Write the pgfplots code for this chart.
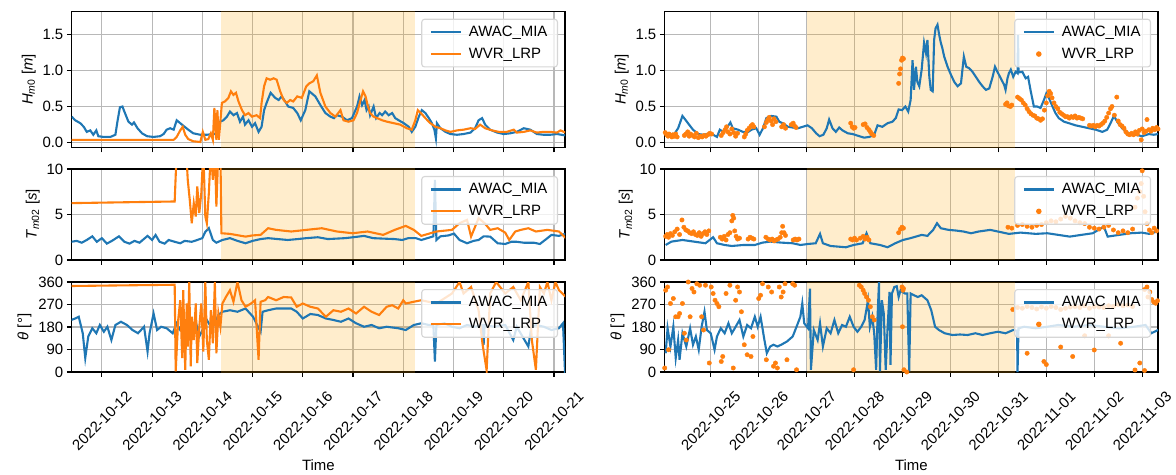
\documentclass[border=0pt]{standalone}
\usepackage{fontspec}
\setmainfont{Liberation Sans}
\usepackage{pgfplots}
\pgfplotsset{compat=1.18}
\definecolor{cA}{HTML}{1F77B4}
\definecolor{cB}{HTML}{FF7F0E}
\definecolor{shade}{HTML}{FFA500}
\definecolor{gridc}{HTML}{B8B8B8}
\definecolor{legc}{HTML}{D6D6D6}
\newcommand{\fs}{\fontsize{15}{17}\selectfont}
\pgfplotsset{
  baseax/.style={scale only axis, width=493.3bp,
    axis line style={line width=1.1bp,black},
    tick pos=left, tick align=outside, major tick length=4.9bp,
    every tick/.style={black,line width=1.1bp},
    grid=major, major grid style={draw=gridc,line width=1.1bp},
    tick label style={font=\fs}, label style={font=\fs},
    legend cell align=left,
    legend style={at={(1,1)}, anchor=north east, xshift=-7bp, yshift=-7bp,
      fill=white, fill opacity=0.8, text opacity=1, draw=legc, line width=1.1bp,
      rounded corners=2.8bp, font=\fs, inner xsep=8bp, inner ysep=5bp, row sep=6bp,
      /tikz/every odd column/.append style={column sep=5bp}},
  },
  Lax/.style={baseax, xmin=11.40, xmax=21.22, xtick={12,13,...,21}},
  Rax/.style={baseax, xmin=24.04, xmax=34.33, xtick={25,26,...,34}},
  Htop/.style={height=135.8bp, ymin=-0.066, ymax=1.81, ytick={0,0.5,1,1.5},
    yticklabels={0.0,0.5,1.0,1.5}, xticklabels={},
    ylabel={\textit{H}\textsubscript{\textit{m}0} [\textit{m}]}},
  Tmid/.style={height=91bp, ymin=0, ymax=10, ytick={0,5,10}, yticklabels={0,5,10},
    xticklabels={}, ylabel={\textit{T}\textsubscript{\textit{m}02} [\textit{s}]}},
  Dbot/.style={height=90bp, ymin=0, ymax=360, ytick={0,90,180,270,360},
    yticklabels={0,90,180,270,360}, ylabel={\textit{θ} [°]}, xlabel={Time},
    xlabel style={yshift=0bp},
    xticklabel style={yshift=-44bp, rotate=45, anchor=center}},
  lineA/.style={cA, line width=2.1bp,
    legend image code/.code={\draw[cA, line width=2.1bp] (0bp,0bp) -- (30bp,0bp);}},
  lineB/.style={cB, line width=2.1bp,
    legend image code/.code={\draw[cB, line width=2.1bp] (0bp,0bp) -- (30bp,0bp);}},
  dotB/.style={cB, only marks, mark=*, mark size=2.2bp, mark options={draw=none, fill=cB},
    legend image code/.code={\fill[cB, fill opacity=1] (15bp,0bp) circle (2.2bp);}},
  shadeL/.style={fill=shade, fill opacity=0.2, draw=none, forget plot},
}
\begin{document}
\begin{tikzpicture}
\path[use as bounding box] (0,0) rectangle (1176bp,475bp);
% ---------------- LEFT TOP
\begin{axis}[Lax, Htop, at={(71.7bp,327.5bp)}, anchor=south west]
\addplot[shadeL] coordinates {(14.38,-1)(18.24,-1)(18.24,3)(14.38,3)} -- cycle;
\addplot[lineA] coordinates {(11.40,0.36)(11.47,0.31)(11.57,0.27)(11.64,0.22)(11.70,0.15)(11.77,0.17)(11.83,0.11)(11.89,0.17)(11.93,0.09)(12.03,0.08)(12.17,0.08)(12.27,0.11)(12.31,0.29)(12.36,0.49)(12.41,0.50)(12.46,0.41)(12.53,0.29)(12.60,0.25)(12.64,0.28)(12.71,0.20)(12.80,0.13)(12.90,0.09)(13.03,0.08)(13.16,0.09)(13.23,0.12)(13.29,0.18)(13.36,0.20)(13.43,0.18)(13.49,0.31)(13.56,0.27)(13.63,0.23)(13.72,0.18)(13.82,0.13)(13.96,0.11)(14.09,0.11)(14.22,0.12)(14.29,0.12)(14.35,0.29)(14.42,0.31)(14.49,0.36)(14.55,0.43)(14.62,0.38)(14.69,0.41)(14.75,0.29)(14.81,0.36)(14.85,0.25)(14.92,0.31)(14.99,0.22)(15.05,0.27)(15.12,0.15)(15.18,0.22)(15.23,0.45)(15.28,0.55)(15.36,0.69)(15.45,0.62)(15.52,0.59)(15.58,0.64)(15.65,0.57)(15.71,0.50)(15.81,0.48)(15.89,0.41)(15.96,0.31)(16.05,0.45)(16.13,0.71)(16.25,0.64)(16.35,0.52)(16.45,0.41)(16.55,0.36)(16.62,0.34)(16.68,0.38)(16.78,0.36)(16.88,0.31)(16.98,0.34)(17.08,0.50)(17.13,0.64)(17.18,0.52)(17.23,0.59)(17.27,0.45)(17.31,0.50)(17.34,0.38)(17.41,0.50)(17.46,0.34)(17.53,0.41)(17.58,0.38)(17.64,0.43)(17.71,0.38)(17.78,0.41)(17.84,0.34)(17.91,0.31)(18.01,0.27)(18.11,0.22)(18.17,0.15)(18.24,0.22)(18.31,0.36)(18.37,0.45)(18.44,0.41)(18.51,0.34)(18.57,0.27)(18.62,0.18)(18.65,0.06)(18.67,0.27)(18.74,0.20)(18.84,0.15)(18.94,0.12)(19.07,0.11)(19.20,0.12)(19.34,0.14)(19.43,0.20)(19.50,0.31)(19.57,0.34)(19.63,0.25)(19.73,0.18)(19.87,0.14)(20.00,0.12)(20.13,0.13)(20.26,0.15)(20.40,0.20)(20.53,0.18)(20.66,0.12)(20.79,0.11)(20.93,0.11)(21.06,0.12)(21.23,0.10)};
\addlegendentry{AWAC\_MIA}
\addplot[lineB] coordinates {(11.40,0.04)(13.43,0.04)(13.49,0.08)(13.56,0.17)(13.61,0.22)(13.66,0.11)(13.72,0.05)(13.82,0.02)(13.96,0.01)(14.01,0.15)(14.06,0.04)(14.12,0.05)(14.17,0.13)(14.21,0.04)(14.24,0.48)(14.28,0.04)(14.30,0.45)(14.33,0.04)(14.39,0.55)(14.45,0.57)(14.52,0.62)(14.57,0.71)(14.62,0.66)(14.67,0.69)(14.72,0.57)(14.79,0.45)(14.85,0.38)(14.92,0.41)(14.99,0.36)(15.08,0.38)(15.15,0.34)(15.18,0.55)(15.23,0.78)(15.28,0.89)(15.35,0.87)(15.42,0.89)(15.48,0.87)(15.55,0.71)(15.62,0.59)(15.68,0.55)(15.75,0.59)(15.81,0.57)(15.89,0.64)(15.98,0.62)(16.07,0.78)(16.13,0.82)(16.21,0.85)(16.28,0.93)(16.35,0.69)(16.45,0.50)(16.55,0.41)(16.65,0.36)(16.75,0.45)(16.81,0.31)(16.91,0.29)(17.01,0.31)(17.08,0.41)(17.15,0.59)(17.20,0.71)(17.25,0.64)(17.29,0.52)(17.34,0.41)(17.41,0.36)(17.48,0.34)(17.58,0.31)(17.68,0.29)(17.81,0.27)(17.94,0.25)(18.07,0.20)(18.17,0.18)(18.24,0.31)(18.29,0.45)(18.35,0.41)(18.44,0.34)(18.54,0.27)(18.64,0.22)(18.74,0.20)(18.84,0.17)(18.94,0.15)(19.07,0.17)(19.20,0.18)(19.34,0.20)(19.43,0.19)(19.53,0.25)(19.63,0.20)(19.77,0.17)(19.90,0.15)(20.06,0.15)(20.20,0.18)(20.26,0.14)(20.40,0.15)(20.53,0.17)(20.66,0.14)(20.79,0.15)(20.93,0.15)(21.06,0.14)(21.13,0.17)(21.23,0.14)};
\addlegendentry{WVR\_LRP}
\end{axis}
% ---------------- LEFT MID
\begin{axis}[Lax, Tmid, at={(71.7bp,215bp)}, anchor=south west]
\addplot[shadeL] coordinates {(14.38,-1)(18.24,-1)(18.24,20)(14.38,20)} -- cycle;
\addplot[lineA] coordinates {(11.39,2.0)(11.50,2.1)(11.60,1.9)(11.70,2.2)(11.81,2.6)(11.90,2.0)(12.00,2.4)(12.10,1.8)(12.20,2.1)(12.34,2.6)(12.45,2.0)(12.55,1.8)(12.65,2.1)(12.75,1.9)(12.91,2.65)(13.00,2.2)(13.07,2.75)(13.15,2.0)(13.25,1.8)(13.33,2.2)(13.45,2.0)(13.56,1.84)(13.65,2.1)(13.79,2.0)(13.90,2.2)(14.00,2.4)(14.06,3.1)(14.13,3.5)(14.21,2.2)(14.28,1.9)(14.40,2.2)(14.55,2.4)(14.70,2.1)(14.86,1.84)(15.00,2.1)(15.16,2.3)(15.31,2.4)(15.50,2.3)(15.70,2.2)(15.90,2.3)(16.07,2.4)(16.30,2.5)(16.50,2.3)(16.84,2.4)(17.00,2.5)(17.22,2.65)(17.40,2.4)(17.60,2.35)(17.83,2.3)(17.98,2.2)(18.10,2.4)(18.25,2.4)(18.36,2.2)(18.60,2.6)(18.63,8.8)(18.66,2.2)(18.74,2.6)(18.90,2.7)(19.01,2.9)(19.12,2.2)(19.27,1.84)(19.40,2.1)(19.50,2.2)(19.60,2.6)(19.73,2.57)(19.88,1.84)(20.03,1.76)(20.15,2.0)(20.26,2.0)(20.40,1.9)(20.60,1.9)(20.72,1.76)(20.87,2.4)(20.95,2.76)(21.10,2.65)(21.24,2.9)};
\addlegendentry{AWAC\_MIA}
\addplot[lineB] coordinates {(11.39,6.25)(13.45,6.43)(13.49,12)(13.68,12)(13.71,8.82)(13.75,6.62)(13.79,4.04)(13.83,6.25)(13.87,4.78)(13.90,8.09)(13.94,5.15)(13.98,7.35)(14.02,12)(14.06,4.78)(14.09,4.04)(14.13,7.35)(14.17,12)(14.21,8.82)(14.25,12)(14.28,5.88)(14.32,12)(14.36,12)(14.38,2.94)(14.55,2.87)(14.86,2.57)(15.00,2.7)(15.16,2.76)(15.31,3.49)(15.47,3.31)(15.77,3.13)(16.07,3.31)(16.38,3.49)(16.68,3.13)(16.99,2.94)(17.29,3.13)(17.60,2.76)(17.83,3.31)(18.05,3.75)(18.21,3.31)(18.36,2.65)(18.66,3.13)(18.97,3.31)(19.12,4.04)(19.27,4.41)(19.35,2.57)(19.50,4.6)(19.62,4.04)(19.73,3.31)(19.88,3.49)(20.03,3.01)(20.11,2.2)(20.23,3.13)(20.34,3.31)(20.49,3.49)(20.64,3.13)(20.87,3.31)(21.10,3.13)(21.24,2.39)};
\addlegendentry{WVR\_LRP}
\end{axis}
% ---------------- LEFT BOTTOM
\begin{axis}[Lax, Dbot, at={(71.7bp,103bp)}, anchor=south west,
  xticklabels={2022-10-12,2022-10-13,2022-10-14,2022-10-15,2022-10-16,2022-10-17,2022-10-18,2022-10-19,2022-10-20,2022-10-21}]
\addplot[shadeL] coordinates {(14.38,-10)(18.24,-10)(18.24,400)(14.38,400)} -- cycle;
\addplot[lineA] coordinates {(11.39,208)(11.47,214)(11.54,221)(11.62,155)(11.67,56)(11.73,142)(11.81,175)(11.89,155)(11.96,188)(12.04,161)(12.11,181)(12.19,128)(12.27,188)(12.38,201)(12.50,188)(12.61,168)(12.72,155)(12.84,181)(12.91,82)(12.95,155)(13.03,234)(13.10,168)(13.18,181)(13.29,175)(13.41,155)(13.49,195)(13.56,168)(13.64,181)(13.71,188)(13.79,155)(13.87,201)(13.94,142)(14.02,175)(14.09,208)(14.17,181)(14.25,195)(14.32,228)(14.40,241)(14.55,247)(14.70,241)(14.86,254)(15.01,221)(15.16,161)(15.20,241)(15.31,247)(15.47,254)(15.62,254)(15.77,254)(15.88,241)(16.00,214)(16.15,232)(16.30,228)(16.46,214)(16.61,208)(16.76,201)(16.91,214)(17.06,195)(17.22,181)(17.37,188)(17.52,175)(17.67,181)(17.90,175)(18.05,168)(18.21,188)(18.36,195)(18.51,188)(18.60,188)(18.63,42)(18.66,188)(18.82,195)(18.97,181)(19.12,175)(19.27,188)(19.43,181)(19.58,188)(19.60,109)(19.62,188)(19.81,181)(20.03,188)(20.19,128)(20.26,181)(20.49,102)(20.55,181)(20.64,188)(20.80,181)(20.95,168)(21.10,175)(21.18,195)(21.22,0)(21.24,10)};
\addlegendentry{AWAC\_MIA}
\addplot[lineB] coordinates {(11.39,344)(13.45,349)(13.47,3)(13.52,208)(13.56,287)(13.60,56)(13.62,327)(13.66,9)(13.69,274)(13.71,102)(13.74,360)(13.77,23)(13.79,221)(13.83,128)(13.87,274)(13.90,36)(13.94,181)(13.98,274)(14.02,82)(14.06,360)(14.09,128)(14.13,49)(14.17,247)(14.21,115)(14.25,360)(14.28,75)(14.32,234)(14.36,181)(14.40,274)(14.47,300)(14.55,327)(14.62,281)(14.70,360)(14.78,287)(14.86,261)(14.97,274)(15.05,287)(15.12,49)(15.16,281)(15.25,287)(15.31,300)(15.47,287)(15.62,300)(15.77,298)(15.88,261)(16.00,274)(16.15,261)(16.30,254)(16.46,221)(16.61,247)(16.76,241)(16.91,254)(17.06,234)(17.22,261)(17.37,241)(17.52,228)(17.67,261)(17.78,267)(17.90,254)(18.00,287)(18.05,274)(18.21,281)(18.36,287)(18.66,274)(18.97,314)(19.12,360)(19.20,314)(19.35,340)(19.50,247)(19.58,109)(19.66,7)(19.73,314)(19.85,360)(20.03,314)(20.19,340)(20.34,287)(20.49,360)(20.56,128)(20.64,9)(20.72,340)(20.80,314)(20.87,360)(20.95,287)(21.03,360)(21.10,327)(21.24,300)};
\addlegendentry{WVR\_LRP}
\end{axis}
% ---------------- RIGHT TOP
\begin{axis}[Rax, Htop, at={(664.7bp,327.5bp)}, anchor=south west]
\addplot[shadeL] coordinates {(27.0,-1)(31.35,-1)(31.35,3)(27.0,3)} -- cycle;
\addplot[lineA] coordinates {(24.25,0.13)(24.32,0.20)(24.41,0.37)(24.48,0.31)(24.56,0.24)(24.63,0.18)(24.74,0.12)(24.84,0.11)(24.94,0.12)(25.05,0.11)(25.13,0.08)(25.19,0.18)(25.26,0.15)(25.33,0.20)(25.41,0.28)(25.46,0.20)(25.57,0.18)(25.67,0.15)(25.76,0.14)(25.85,0.18)(25.95,0.20)(26.02,0.11)(26.09,0.20)(26.16,0.34)(26.26,0.37)(26.37,0.36)(26.43,0.29)(26.50,0.27)(26.61,0.22)(26.71,0.21)(26.82,0.20)(26.92,0.22)(27.02,0.24)(27.11,0.20)(27.20,0.13)(27.27,0.09)(27.35,0.11)(27.42,0.20)(27.47,0.32)(27.54,0.20)(27.61,0.15)(27.68,0.21)(27.75,0.17)(27.86,0.13)(27.96,0.12)(28.10,0.09)(28.20,0.07)(28.31,0.08)(28.41,0.11)(28.48,0.24)(28.58,0.22)(28.69,0.27)(28.79,0.29)(28.86,0.34)(28.92,0.46)(28.99,0.45)(29.06,0.50)(29.12,0.43)(29.17,0.59)(29.21,1.14)(29.24,0.73)(29.28,1.05)(29.31,0.84)(29.35,0.78)(29.40,1.01)(29.45,1.38)(29.49,1.24)(29.52,1.42)(29.56,0.91)(29.59,0.73)(29.63,0.71)(29.66,1.42)(29.69,1.58)(29.73,1.63)(29.76,1.51)(29.80,1.38)(29.83,1.31)(29.87,1.19)(29.94,1.05)(30.01,0.94)(30.08,0.84)(30.15,0.78)(30.22,0.82)(30.28,1.19)(30.33,1.05)(30.39,1.03)(30.46,0.98)(30.53,0.91)(30.60,0.84)(30.67,0.78)(30.74,0.73)(30.81,0.75)(30.88,0.91)(30.93,1.05)(30.98,0.98)(31.05,0.89)(31.12,0.80)(31.15,0.73)(31.19,0.89)(31.22,0.96)(31.26,1.01)(31.31,0.91)(31.36,0.98)(31.40,0.96)(31.41,1.49)(31.42,0.97)(31.50,0.98)(31.57,0.89)(31.62,0.91)(31.67,0.73)(31.74,0.50)(31.81,0.50)(31.88,0.48)(31.95,0.59)(32.00,0.68)(32.06,0.61)(32.13,0.50)(32.19,0.41)(32.26,0.34)(32.37,0.29)(32.47,0.27)(32.61,0.24)(32.75,0.22)(32.89,0.20)(33.03,0.18)(33.17,0.15)(33.27,0.18)(33.34,0.27)(33.41,0.37)(33.48,0.29)(33.58,0.20)(33.72,0.13)(33.86,0.11)(34.00,0.09)(34.14,0.12)(34.24,0.11)(34.33,0.12)};
\addlegendentry{AWAC\_MIA}
\addplot[dotB] coordinates {(24.05,0.14)(24.08,0.11)(24.11,0.09)(24.13,0.12)(24.16,0.10)(24.19,0.08)(24.21,0.11)(24.24,0.09)(24.27,0.12)(24.30,0.08)(24.45,0.10)(24.48,0.12)(24.52,0.15)(24.55,0.09)(24.58,0.12)(24.62,0.10)(24.66,0.08)(24.70,0.13)(24.74,0.07)(24.78,0.09)(24.82,0.08)(24.86,0.10)(24.90,0.09)(24.94,0.11)(24.98,0.13)(25.02,0.12)(25.22,0.10)(25.26,0.14)(25.30,0.18)(25.33,0.22)(25.36,0.15)(25.40,0.12)(25.44,0.19)(25.48,0.14)(25.52,0.09)(25.56,0.13)(25.70,0.08)(25.73,0.12)(25.76,0.17)(25.80,0.20)(25.84,0.23)(25.87,0.25)(25.90,0.22)(26.12,0.22)(26.16,0.28)(26.19,0.32)(26.22,0.35)(26.26,0.30)(26.29,0.25)(26.32,0.33)(26.36,0.29)(26.48,0.22)(26.52,0.25)(26.56,0.20)(26.68,0.25)(26.72,0.27)(26.75,0.23)(26.78,0.21)(27.92,0.27)(27.95,0.22)(27.98,0.20)(28.01,0.21)(28.18,0.25)(28.22,0.26)(28.26,0.21)(28.30,0.18)(28.33,0.15)(28.36,0.12)(28.40,0.10)(28.92,0.82)(28.94,0.95)(28.96,1.02)(28.98,1.14)(29.00,1.17)(29.02,1.16)(31.15,0.53)(31.18,0.55)(31.21,0.51)(31.25,0.50)(31.28,0.52)(31.40,0.63)(31.44,0.61)(31.48,0.59)(31.52,0.55)(31.56,0.52)(31.60,0.47)(31.64,0.43)(31.68,0.40)(31.72,0.38)(31.76,0.37)(31.80,0.34)(31.84,0.33)(31.88,0.31)(31.92,0.33)(31.96,0.45)(32.00,0.55)(32.03,0.65)(32.06,0.71)(32.09,0.68)(32.12,0.62)(32.16,0.55)(32.20,0.50)(32.24,0.47)(32.28,0.42)(32.32,0.40)(32.36,0.38)(32.40,0.36)(32.44,0.36)(32.48,0.34)(32.52,0.36)(32.56,0.35)(32.60,0.37)(32.64,0.34)(32.68,0.35)(32.72,0.34)(32.76,0.33)(32.90,0.24)(32.94,0.23)(32.98,0.24)(33.02,0.22)(33.06,0.24)(33.10,0.23)(33.14,0.25)(33.18,0.27)(33.22,0.30)(33.26,0.35)(33.30,0.41)(33.34,0.47)(33.37,0.50)(33.47,0.63)(33.42,0.38)(33.50,0.30)(33.54,0.25)(33.58,0.23)(33.62,0.20)(33.66,0.15)(33.70,0.12)(33.74,0.11)(33.78,0.13)(33.82,0.11)(33.86,0.15)(33.90,0.12)(33.94,0.17)(33.98,0.04)(34.00,0.19)(34.04,0.14)(34.08,0.16)(34.10,0.32)(34.14,0.18)(34.18,0.16)(34.22,0.20)(34.26,0.18)(34.30,0.21)(34.33,0.19)};
\addlegendentry{WVR\_LRP}
\end{axis}
% ---------------- RIGHT MID
\begin{axis}[Rax, Tmid, at={(664.7bp,215bp)}, anchor=south west]
\addplot[shadeL] coordinates {(27.0,-1)(31.35,-1)(31.35,20)(27.0,20)} -- cycle;
\addplot[lineA] coordinates {(24.06,1.65)(24.18,2.02)(24.41,2.2)(24.65,2.02)(24.89,1.84)(25.05,2.5)(25.13,1.84)(25.29,1.65)(25.44,1.54)(25.68,1.65)(25.92,1.65)(26.08,1.91)(26.24,2.02)(26.47,1.91)(26.71,1.84)(26.87,1.65)(27.03,1.76)(27.19,1.84)(27.28,2.87)(27.34,1.84)(27.50,1.54)(27.82,1.40)(27.98,1.65)(28.17,1.84)(28.25,2.94)(28.33,1.84)(28.53,1.65)(28.69,1.40)(28.85,1.84)(29.01,2.2)(29.16,2.39)(29.28,2.57)(29.40,2.76)(29.52,2.65)(29.64,3.31)(29.72,4.04)(29.80,3.49)(29.96,3.31)(30.11,3.24)(30.27,3.13)(30.43,2.94)(30.59,3.13)(30.83,3.31)(30.99,3.13)(31.22,2.87)(31.46,3.01)(31.78,2.87)(32.02,2.94)(32.25,2.76)(32.49,2.57)(32.73,2.76)(32.97,2.94)(33.20,3.68)(33.28,2.57)(33.52,2.76)(33.76,2.94)(33.99,3.01)(34.15,2.87)(34.31,3.13)};
\addlegendentry{AWAC\_MIA}
\addplot[dotB] coordinates {(24.03,3.0)(24.06,2.6)(24.09,2.8)(24.12,2.5)(24.16,2.9)(24.20,2.7)(24.25,3.1)(24.30,3.4)(24.35,2.8)(24.40,4.4)(24.44,3.6)(24.48,3.3)(24.52,3.2)(24.56,3.0)(24.60,2.9)(24.64,3.1)(24.68,2.8)(24.72,2.7)(24.76,3.0)(24.80,2.6)(24.84,2.9)(24.88,3.1)(24.92,2.8)(24.96,3.2)(25.20,2.5)(25.24,2.3)(25.28,2.6)(25.32,2.2)(25.36,2.8)(25.40,3.0)(25.44,4.3)(25.46,4.9)(25.48,4.6)(25.50,3.2)(25.53,2.6)(25.56,2.3)(25.60,2.4)(25.78,2.3)(25.82,2.5)(25.86,2.4)(25.90,2.3)(26.15,2.5)(26.20,2.3)(26.24,2.2)(26.28,2.3)(26.32,2.1)(26.36,2.2)(26.40,2.3)(26.45,2.5)(26.48,3.0)(26.50,3.7)(26.53,3.0)(26.56,2.7)(26.72,2.2)(26.76,2.3)(26.80,2.2)(26.84,2.3)(27.92,2.3)(27.96,2.2)(28.00,2.4)(28.04,2.2)(28.12,2.4)(28.18,2.6)(28.22,2.3)(28.26,2.5)(28.30,2.2)(28.92,3.0)(28.96,3.4)(28.99,3.6)(29.02,3.5)(31.20,3.6)(31.28,3.5)(31.40,3.8)(31.50,3.9)(31.60,3.7)(31.70,3.6)(31.80,3.8)(31.90,3.9)(32.00,4.1)(32.10,4.3)(32.20,4.2)(32.30,4.5)(32.40,4.8)(32.50,4.6)(32.60,4.3)(32.70,4.1)(32.80,4.0)(32.90,3.6)(33.00,3.5)(33.10,3.4)(33.20,3.6)(33.30,3.8)(33.40,3.3)(33.50,3.0)(33.60,3.2)(33.70,3.0)(33.80,3.4)(33.85,5.8)(33.90,6.8)(33.95,7.5)(33.98,8.4)(34.00,9.8)(34.03,7.0)(34.06,5.3)(34.10,4.0)(34.15,3.3)(34.20,3.0)(34.25,3.5)(34.30,3.2)};
\addlegendentry{WVR\_LRP}
\end{axis}
% ---------------- RIGHT BOTTOM
\begin{axis}[Rax, Dbot, at={(664.7bp,103bp)}, anchor=south west,
  xticklabels={2022-10-25,2022-10-26,2022-10-27,2022-10-28,2022-10-29,2022-10-30,2022-10-31,2022-11-01,2022-11-02,2022-11-03}]
\addplot[shadeL] coordinates {(27.0,-10)(31.35,-10)(31.35,400)(27.0,400)} -- cycle;
\addplot[lineA] coordinates {(24.06,75)(24.10,175)(24.16,102)(24.22,181)(24.27,56)(24.32,128)(24.35,49)(24.41,155)(24.49,102)(24.57,175)(24.63,109)(24.69,142)(24.75,89)(24.81,181)(24.87,241)(24.92,168)(25.00,155)(25.08,89)(25.13,142)(25.21,175)(25.29,155)(25.37,195)(25.44,155)(25.52,181)(25.60,208)(25.68,142)(25.76,188)(25.84,175)(25.92,221)(25.98,181)(26.04,221)(26.12,128)(26.17,75)(26.24,102)(26.31,109)(26.39,102)(26.47,109)(26.59,122)(26.71,142)(26.79,181)(26.87,221)(26.91,274)(26.95,195)(27.03,175)(27.07,333)(27.09,9)(27.15,168)(27.23,128)(27.28,195)(27.34,102)(27.42,175)(27.50,155)(27.58,208)(27.66,155)(27.74,188)(27.82,181)(27.90,221)(27.98,181)(28.06,161)(28.14,181)(28.21,208)(28.28,287)(28.32,181)(28.37,221)(28.41,155)(28.45,9)(28.48,221)(28.51,360)(28.53,3)(28.57,287)(28.61,234)(28.65,9)(28.69,181)(28.73,320)(28.75,29)(28.78,314)(28.83,340)(28.88,343)(28.92,300)(28.96,327)(29.00,320)(29.05,314)(29.10,314)(29.14,3)(29.17,314)(29.24,307)(29.32,300)(29.40,307)(29.52,287)(29.60,247)(29.68,181)(29.76,168)(29.88,155)(30.04,148)(30.20,150)(30.36,148)(30.52,155)(30.67,148)(30.83,155)(30.99,161)(31.15,155)(31.31,168)(31.39,165)(31.40,0)(31.42,175)(31.54,181)(31.78,175)(32.02,181)(32.25,188)(32.57,181)(32.89,188)(33.20,181)(33.52,175)(33.83,181)(34.07,188)(34.19,155)(34.33,168)};
\addlegendentry{AWAC\_MIA}
\addplot[dotB] coordinates {(24.04,16)(24.06,327)(24.10,340)(24.12,89)(24.16,274)(24.22,294)(24.27,221)(24.32,221)(24.35,234)(24.41,274)(24.45,155)(24.49,128)(24.53,360)(24.57,221)(24.61,334)(24.65,320)(24.71,353)(24.77,347)(24.81,221)(24.85,168)(24.89,347)(24.97,36)(25.01,340)(25.05,314)(25.09,287)(25.13,274)(25.17,261)(25.22,42)(25.25,62)(25.32,314)(25.40,347)(25.47,16)(25.52,287)(25.56,340)(25.60,320)(25.64,241)(25.70,109)(25.76,69)(25.84,62)(25.88,142)(26.00,294)(26.04,307)(26.08,353)(26.16,49)(26.20,340)(26.27,320)(26.31,23)(26.35,36)(26.39,16)(26.43,340)(26.47,300)(26.51,320)(26.55,353)(26.59,49)(26.71,353)(26.75,347)(26.79,9)(27.98,9)(28.10,347)(28.14,340)(28.18,327)(28.21,314)(28.25,300)(28.29,287)(28.33,261)(28.37,221)(28.41,208)(28.99,340)(29.01,327)(29.02,334)(29.00,181)(29.03,9)(29.09,0)(31.30,250)(31.40,258)(31.50,255)(31.60,262)(31.70,258)(31.80,252)(31.90,260)(32.00,255)(32.10,262)(32.20,258)(32.30,250)(32.40,255)(32.50,260)(32.60,262)(32.70,258)(32.80,265)(32.90,255)(33.00,262)(33.10,260)(33.20,258)(33.30,265)(33.40,262)(33.50,270)(33.60,265)(33.70,268)(33.80,262)(31.60,75)(31.95,42)(32.00,30)(32.30,100)(32.55,62)(32.80,145)(33.00,88)(33.30,145)(33.55,115)(33.85,8)(33.95,36)(34.05,6)(34.12,300)(34.16,320)(34.20,290)(34.24,280)(34.28,275)(34.32,285)(34.10,340)(34.05,330)};
\addlegendentry{WVR\_LRP}
\end{axis}
\end{tikzpicture}
\end{document}
